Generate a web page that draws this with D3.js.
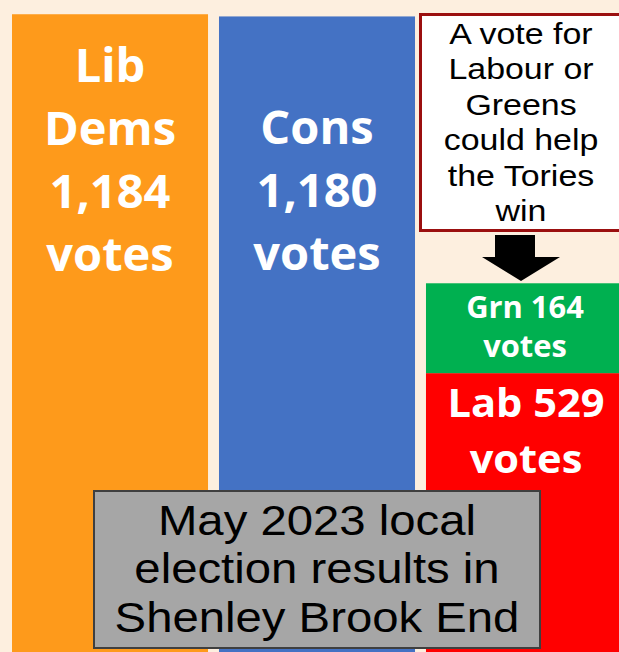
<!DOCTYPE html>
<html>
<head>
<meta charset="utf-8">
<script src="https://cdn.jsdelivr.net/npm/d3@7"></script>
<style>
  body { margin: 0; background: #fdefdf; }
  svg { display: block; }
</style>
</head>
<body>
<svg id="chart" width="619" height="652"></svg>
<script>
const svg = d3.select("#chart");
const width = +svg.attr("width");
const height = +svg.attr("height");

// party results, Shenley Brook End, May 2023
const parties = ["Lib Dems", "Cons", "Lab", "Grn"];
const votes = [1184, 1180, 529, 164];
const columns = ["LD", "Con", "LabGrn"];
const colours = ["#fe9a1b", "#4472c4", "#ff0000", "#00b050"];
const labels = [
  ["Lib", "Dems", "1,184", "votes"],
  ["Cons", "1,180", "votes"],
  ["Lab 529", "votes"],
  ["Grn 164", "votes"]
];
const note = ["A vote for", "Labour or", "Greens", "could help", "the Tories", "win"];
const title = ["May 2023 local", "election results in", "Shenley Brook End"];

svg.append("rect").attr("width", width).attr("height", height).attr("fill", "#fdefdf");

const x = d3.scaleBand().domain(columns).range([12, 622]).paddingInner(0.053);
const y = d3.scaleLinear().domain([0, 1210]).range([663, 0]);

// Lab and Grn stack into the third column
const bars = [
  { col: "LD", y0: 0, y1: votes[0], c: colours[0] },
  { col: "Con", y0: 0, y1: votes[1], c: colours[1] },
  { col: "LabGrn", y0: 0, y1: votes[2], c: colours[2] },
  { col: "LabGrn", y0: votes[2], y1: votes[2] + votes[3], c: colours[3] }
];

svg.selectAll(".bar")
  .data(bars)
  .enter().append("rect")
  .attr("class", "bar")
  .attr("x", d => x(d.col))
  .attr("width", x.bandwidth())
  .attr("y", d => y(d.y1))
  .attr("height", d => y(d.y0) - y(d.y1))
  .attr("fill", d => d.c);

// centred multi-line text, sx stretches it sideways
function block(lines, cx, top, size, gap, opts, sx) {
  svg.append("text")
    .attr("transform", `translate(${cx},0) scale(${sx || 1},1)`)
    .attr("text-anchor", "middle")
    .attr("font-family", opts.font)
    .attr("font-weight", opts.weight)
    .attr("font-size", size)
    .attr("fill", opts.fill)
    .selectAll("tspan")
    .data(lines)
    .enter().append("tspan")
    .attr("x", 0)
    .attr("y", (d, i) => top + i * gap)
    .text(d => d);
}

const bold = { font: "'Open Sans', sans-serif", weight: "bold", fill: "#fff" };
const plain = { font: "'Liberation Sans', Arial, sans-serif", weight: "normal", fill: "#000" };
const cx = c => x(c) + x.bandwidth() / 2;
block(labels[0], cx("LD"), 82, 47, 63, bold);
block(labels[1], cx("Con"), 144, 47, 63, bold);
block(labels[2], cx("LabGrn") + 2, 417, 40, 56, bold, 1.04);
block(labels[3], cx("LabGrn") + 1, 318, 30, 39, bold, 1.03);

// note box
svg.append("rect")
  .attr("x", 420.5).attr("y", 14.5)
  .attr("width", 220).attr("height", 216)
  .attr("fill", "#fff").attr("stroke", "#9b0f0f").attr("stroke-width", 3);
block(note, 521, 44, 29, 35.5, plain, 1.17);

// arrow
svg.append("path")
  .attr("d", "M495,235 L535,235 L535,257 L560,257 L521,281 L482,257 L495,257 Z")
  .attr("fill", "#000");

// title box
svg.append("rect")
  .attr("x", 94).attr("y", 491)
  .attr("width", 446).attr("height", 157)
  .attr("fill", "#a6a6a6").attr("stroke", "#3f3f3f").attr("stroke-width", 2);
block(title, 317, 535, 43, 48.5, plain, 1.1);
</script>
</body>
</html>
